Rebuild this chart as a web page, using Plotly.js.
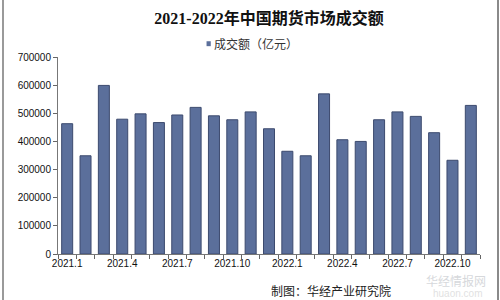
<!DOCTYPE html>
<html>
<head>
<meta charset="utf-8">
<script src="https://cdn.plot.ly/plotly-3.0.1.min.js"></script>
<style>
html,body{margin:0;padding:0;background:#fff;}
#wrap{position:absolute;left:2px;top:0;width:493px;height:300px;border-left:2px solid #9a9a9a;border-right:2px solid #8a8a8a;}
#chart{position:absolute;left:-4px;top:0;width:500px;height:300px;}
</style>
</head>
<body>
<div id="wrap"><div id="chart"></div></div>
<script>
// Data
const months = ["2021.1","2021.2","2021.3","2021.4","2021.5","2021.6","2021.7","2021.8","2021.9","2021.10","2021.11","2021.12",
                "2022.1","2022.2","2022.3","2022.4","2022.5","2022.6","2022.7","2022.8","2022.9","2022.10","2022.11"];
const turnover = [463000,349000,599000,479000,498000,467000,494000,521000,491000,477000,505000,445000,
                  365000,349000,569000,406000,400000,477000,505000,489000,431000,333000,528000];
const shownLabels = ["2021.1","2021.4","2021.7","2021.10","2022.1","2022.4","2022.7","2022.10"];
const seriesName = "成交额（亿元）";
const titleText = "2021-2022年中国期货市场成交额";
const sourceText = "制图：华经产业研究院";

const tickText = months.map(m => shownLabels.includes(m) ? m : "");
const barColor = "#5b6f9b";

const trace = {
  type: "bar",
  x: months,
  y: turnover,
  name: seriesName,
  marker: {color: barColor, line: {color: "#3c4a6e", width: 1}},
  showlegend: false
};

const layout = {
  width: 500, height: 300,
  margin: {l: 58, r: 20, t: 57, b: 46},
  paper_bgcolor: "rgba(0,0,0,0)",
  plot_bgcolor: "rgba(0,0,0,0)",
  font: {family: "Liberation Sans, Arial, Noto Sans CJK SC, sans-serif", size: 10, color: "#222"},
  bargap: 0.4,
  title: {
    text: "<b>" + titleText + "</b>",
    x: 0.5, xref: "paper", xanchor: "center",
    y: 0.94, yref: "container", yanchor: "middle",
    font: {family: "Liberation Serif, DejaVu Serif, Noto Sans CJK SC, serif", size: 16, color: "#111"}
  },
  showlegend: false,
  xaxis: {
    type: "category",
    tickmode: "array",
    tickvals: months,
    ticktext: tickText,
    tickson: "boundaries",
    ticks: "outside", ticklen: 4, tickcolor: "#666",
    showline: true, linecolor: "#777", linewidth: 1,
    showgrid: false, zeroline: false,
    tickangle: 0,
    tickfont: {size: 10, color: "#111"},
    fixedrange: true
  },
  yaxis: {
    range: [0, 700000],
    dtick: 100000,
    tickformat: "d",
    ticks: "outside", ticklen: 4, tickcolor: "#666",
    showline: true, linecolor: "#777", linewidth: 1,
    showgrid: false, zeroline: false,
    tickfont: {size: 10, color: "#111"},
    fixedrange: true
  },
  shapes: [
    {type: "rect", xref: "paper", yref: "paper", x0: 0.352, x1: 0.362, y0: 1.055, y1: 1.08,
     fillcolor: barColor, line: {width: 0}}
  ],
  annotations: [
    {text: seriesName, xref: "paper", yref: "paper", x: 0.366, y: 1.067, xanchor: "left", yanchor: "middle",
     showarrow: false, font: {family: "Noto Sans CJK SC, sans-serif", size: 12, color: "#333"}},
    {text: sourceText, xref: "paper", yref: "paper", x: 0.5, y: -0.185, xanchor: "left", yanchor: "middle",
     showarrow: false, font: {family: "Noto Sans CJK SC, sans-serif", size: 12, color: "#222"}},
    {text: "华经情报网", xref: "paper", yref: "paper", x: 1.02, y: -0.135, xanchor: "right", yanchor: "middle",
     showarrow: false, opacity: 0.4, font: {family: "Noto Sans CJK SC, sans-serif", size: 12, color: "#9aa0a8"}},
    {text: "huaon.com", xref: "paper", yref: "paper", x: 1.01, y: -0.2, xanchor: "right", yanchor: "middle",
     showarrow: false, opacity: 0.35, font: {family: "Liberation Sans, sans-serif", size: 10, color: "#aaa"}}
  ]
};

Plotly.newPlot("chart", [trace], layout, {displayModeBar: false, staticPlot: true});
</script>
</body>
</html>
